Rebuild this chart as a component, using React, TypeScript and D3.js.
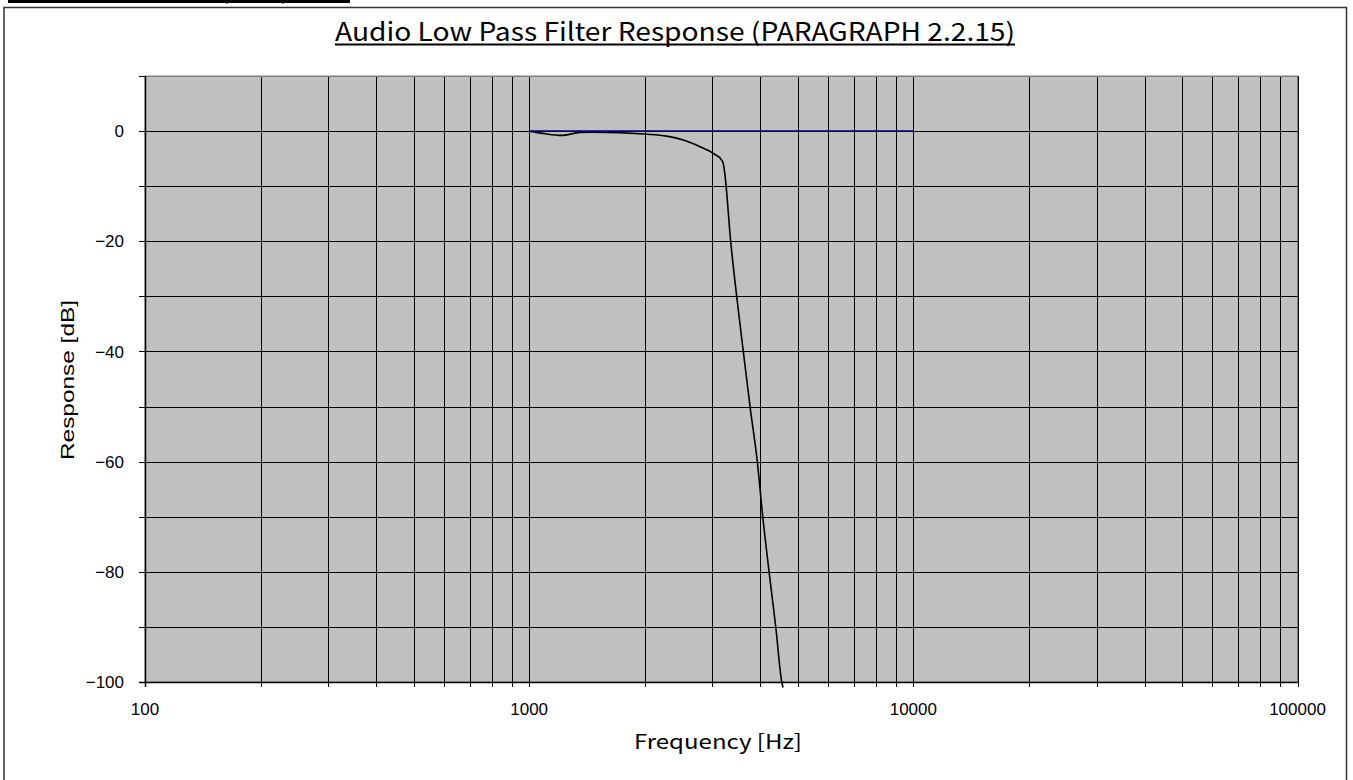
import React from "react";
import * as d3 from "d3";

// Measured response (black curve)
const freqHz = [1000, 1088, 1214, 1356, 1468, 2000, 2280, 2519, 2784, 3013, 3170, 3201, 3234, 3346, 3469, 3609, 3758, 3925, 4055, 4212, 4384, 4545, 4580];
const responseDb = [0, -0.42, -0.78, -0.24, -0.18, -0.54, -0.91, -1.63, -2.85, -4.05, -5.26, -5.9, -8, -20, -30, -40, -50, -60, -70, -80, -90, -100, -101];

// Reference 0 dB line (blue)
const refFreqHz = [1000, 10000];
const refDb = [0, 0];

const yTickLabels = [0, -20, -40, -60, -80, -100];
const yGridValues = [10, 0, -10, -20, -30, -40, -50, -60, -70, -80, -90, -100];
const xTickLabels = [100, 1000, 10000, 100000];
const decades = [100, 1000, 10000];
const multipliers = [1, 2, 3, 4, 5, 6, 7, 8, 9];

const title = "Audio Low Pass Filter Response (PARAGRAPH 2.2.15)";
const xTitle = "Frequency [Hz]";
const yTitle = "Response [dB]";

export default function App() {
  const W = 1353;
  const H = 780;
  const left = 145, right = 1297.5, top = 76, bottom = 682;
  const x = d3.scaleLog().domain([100, 100000]).range([left, right]);
  const y = d3.scaleLinear().domain([-100, 10]).range([bottom, top]);

  const xGrid: number[] = [];
  decades.forEach((d) => multipliers.forEach((m) => xGrid.push(d * m)));
  xGrid.push(100000);

  const line = d3
    .line<[number, number]>()
    .x((d) => x(d[0]))
    .y((d) => y(d[1]))
    .curve(d3.curveMonotoneX);

  const respPts: [number, number][] = freqHz.map((f, i) => [f, responseDb[i]]);
  const refPts: [number, number][] = refFreqHz.map((f, i) => [f, refDb[i]]);

  const fmt = (v: number) => (v < 0 ? "\u2212" + Math.abs(v) : String(v));

  return (
    <svg
      width={W}
      height={H}
      style={{ position: "absolute", left: 0, top: 0, display: "block", background: "#fff" }}
    >
      {/* cut-off table remnant at top */}
      <line x1={8} x2={350} y1={1.5} y2={1.5} stroke="#000" strokeWidth={3} />
      <line x1={227} x2={227} y1={0} y2={4} stroke="#000" strokeWidth={1} />
      <line x1={283} x2={283} y1={0} y2={4} stroke="#000" strokeWidth={1} />

      {/* outer frame */}
      <rect x={4} y={7.5} width={1342.5} height={H} fill="#fff" stroke="#333" strokeWidth={1.5} />

      {/* title */}
      <text
        x={675}
        y={41}
        textAnchor="middle"
        fontFamily="'Noto Sans CJK JP', 'Noto Sans', sans-serif"
        fontSize={25}
        textLength={680}
        lengthAdjust="spacingAndGlyphs"
        fill="#000"
      >
        {title}
      </text>
      <line x1={335} x2={1015} y1={44.5} y2={44.5} stroke="#000" strokeWidth={2} />

      {/* plot area */}
      <rect x={left} y={top} width={right - left} height={bottom - top} fill="#c0c0c0" stroke="#808080" strokeWidth={1} />

      {/* grid */}
      {xGrid.map((f) => (
        <line key={"vx" + f} x1={Math.round(x(f)) + 0.5} x2={Math.round(x(f)) + 0.5} y1={top} y2={bottom + 5} stroke="#000" strokeWidth={1} />
      ))}
      {yGridValues.map((v) => (
        <line key={"hy" + v} x1={left - 6} x2={right} y1={Math.round(y(v)) + 0.5} y2={Math.round(y(v)) + 0.5} stroke="#000" strokeWidth={1} />
      ))}
      <line x1={left} x2={right} y1={top + 0.5} y2={top + 0.5} stroke="#808080" strokeWidth={1} />
      <line x1={left - 6} x2={left} y1={top + 0.5} y2={top + 0.5} stroke="#000" strokeWidth={1} />

      {/* axes */}
      <line x1={left + 0.5} x2={left + 0.5} y1={top} y2={bottom + 5} stroke="#000" strokeWidth={1.5} />
      <line x1={left - 6} x2={right} y1={bottom + 0.5} y2={bottom + 0.5} stroke="#000" strokeWidth={1.5} />

      {/* data */}
      <path d={line(respPts) || ""} fill="none" stroke="#000" strokeWidth={1.6} />
      <path d={line(refPts) || ""} fill="none" stroke="#000080" strokeWidth={1.6} />

      {/* tick labels */}
      {yTickLabels.map((v) => (
        <text key={"yl" + v} x={124} y={y(v)} dy="0.36em" textAnchor="end" fontFamily="'Liberation Sans', Arial, sans-serif" fontSize={17} fill="#000">
          {fmt(v)}
        </text>
      ))}
      {xTickLabels.map((f) => (
        <text key={"xl" + f} x={x(f)} y={715} textAnchor="middle" fontFamily="'Liberation Sans', Arial, sans-serif" fontSize={17} fill="#000">
          {f}
        </text>
      ))}

      {/* axis titles */}
      <text x={718} y={749} textAnchor="middle" fontFamily="'Noto Sans CJK JP', 'Noto Sans', sans-serif" fontSize={20} textLength={168} lengthAdjust="spacingAndGlyphs" fill="#000">
        {xTitle}
      </text>
      <text
        transform="translate(74,380) rotate(-90)"
        textAnchor="middle"
        fontFamily="'Liberation Sans', Arial, sans-serif"
        fontSize={19}
        textLength={160}
        lengthAdjust="spacingAndGlyphs"
        fill="#000"
      >
        {yTitle}
      </text>
    </svg>
  );
}
